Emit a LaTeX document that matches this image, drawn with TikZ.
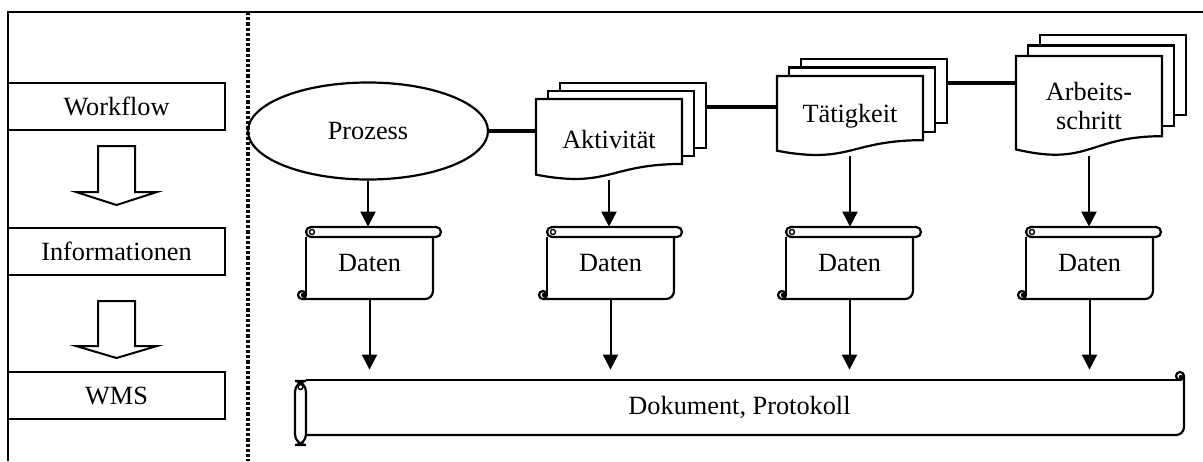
\documentclass[tikz,border=0pt]{standalone}
\usepackage{fontspec}
\setmainfont{Liberation Serif}
\usetikzlibrary{arrows.meta,shapes.geometric}

% stacked documents: name, x, y (top left of front sheet), height, step, text
\newcommand\multidoc[6]{%
  \foreach \k in {2,1}{
    \draw[sheet] (#2+12*\k,#3-#5*\k) rectangle (#2+146+12*\k,#3-#5*\k+0.802*#4);
  }
  \draw[sheet] (#2,#3) -- (#2+146,#3) -- (#2+146,#3+0.802*#4)
    .. controls (#2+73,#3+0.802*#4) and (#2+73,#3+1.107*#4) .. (#2,#3+0.934*#4) -- cycle;
  \coordinate (#1-back) at (#2+170,#3-2*#5+24);
  \node[align=center, minimum width=73pt, minimum height=#4*0.5pt] (#1) at (#2+73,#3+#4/2) {#6};
}

% small scroll: name, x, y (top left of the sheet below the roll)
\newcommand\datascroll[3]{%
  \draw[roll] (#2,#3) -- (#2,#3+58);
  \draw[roll, rounded corners=4] (#2-4,#3+62) -- (#2+127,#3+62) -- (#2+127,#3);
  \draw[roll, fill=white] (#2-4,#3+58) circle (4);
  \fill (#2-3,#3+58) circle (2.2);
  \draw[roll, fill=white] (#2+5,#3-10) -- (#2+130,#3-10) arc (-90:90:5)
      -- (#2+5,#3) arc (90:270:5) -- cycle;
  \draw[line width=0.7pt] (#2+6,#3-5) circle (2.5);
  \node[minimum width=63.5pt, minimum height=36pt] (#1) at (#2+63.5,#3+26) {\raisebox{-1pt}{Daten}};
}

\begin{document}
\begin{tikzpicture}[x=0.5pt,y=-0.5pt,
    every node/.style={font=\fontsize{13.15}{14}\selectfont, inner sep=0pt},
    box/.style={draw, line width=1pt, minimum width=108.5pt, minimum height=23.5pt},
    blockarr/.style={draw, line width=1pt, line join=miter},
    sheet/.style={draw, line width=1.1pt, fill=white, line join=miter},
    roll/.style={line width=1.1pt},
    link/.style={line width=2pt},
    flow/.style={line width=1pt, -{Triangle[length=7.5pt,width=7.5pt]}}]
    \useasboundingbox (0,0) rectangle (1203,461);

    % frame and separator
    \draw[line width=1.1pt] (8,461) -- (8,12) -- (1203,12);
    \draw[line width=1.6pt, dash pattern=on 1.6pt off 1pt] (248,12) -- (248,461);

    % left column
    \node[box] (wf) at (116.5,106.5) {Workflow};
    \node[box] (inf) at (116.5,251.5) {Informationen};
    \node[box] (wms) at (116.5,395.5) {WMS};
    \draw[blockarr] (wf.south) ++(-18.5,15) -- ++(0,46) -- ++(-22,0) -- ++(40.5,13)
        -- ++(40.5,-13) -- ++(-22,0) -- ++(0,-46) -- cycle;
    \draw[blockarr] (inf.south) ++(-18.5,25) -- ++(0,45) -- ++(-22,0) -- ++(40.5,12)
        -- ++(40.5,-12) -- ++(-22,0) -- ++(0,-45) -- cycle;

    % top row
    \node[ellipse, draw, line width=1.1pt, minimum width=120pt, minimum height=48.5pt] (proz) at (368,131) {Prozess};
    \multidoc{act}{536}{99}{81}{8}{Aktivität}
    \multidoc{tat}{777}{76}{80}{8.5}{Tätigkeit}
    \multidoc{arb}{1016}{56}{100}{10.5}{Arbeits-\\schritt}

    \draw[link] (proz.east) -- (proz.east -| act.west);
    \draw[link] (act-back) -- (act-back -| tat.west);
    \draw[link] (tat-back) -- (tat-back -| arb.west);

    % data scrolls
    \datascroll{d1}{306}{237}
    \datascroll{d2}{547}{237}
    \datascroll{d3}{786}{237}
    \datascroll{d4}{1026}{237}

    % long scroll
    \draw[roll, rounded corners=4] (1184,376) -- (1184,435) -- (306,435);
    \draw[roll] (306,380) -- (1180,380);
    \draw[roll, fill=white] (1180,376) circle (4);
    \fill (1181,377) circle (2.2);
    \draw[roll, fill=white, rounded corners=5.4] (295,381) rectangle (306,445);
    \draw[line width=0.7pt] (300.5,387) circle (2.5);
    \node[minimum width=444.5pt, minimum height=27.5pt] (prot) at (739.5,407.5) {Dokument, Protokoll};

    % arrows
    \draw[flow] (proz.south) -- (proz.south |- d1.north);
    \draw[flow] (act.south) -- (act.south |- d2.north);
    \draw[flow] (tat.south) -- (tat.south |- d3.north);
    \draw[flow] (arb.south) -- (arb.south |- d4.north);
    \foreach \d in {d1,d2,d3,d4}
        \draw[flow, shorten >=5pt] (\d.south) -- (\d.south |- prot.north);
\end{tikzpicture}
\end{document}
